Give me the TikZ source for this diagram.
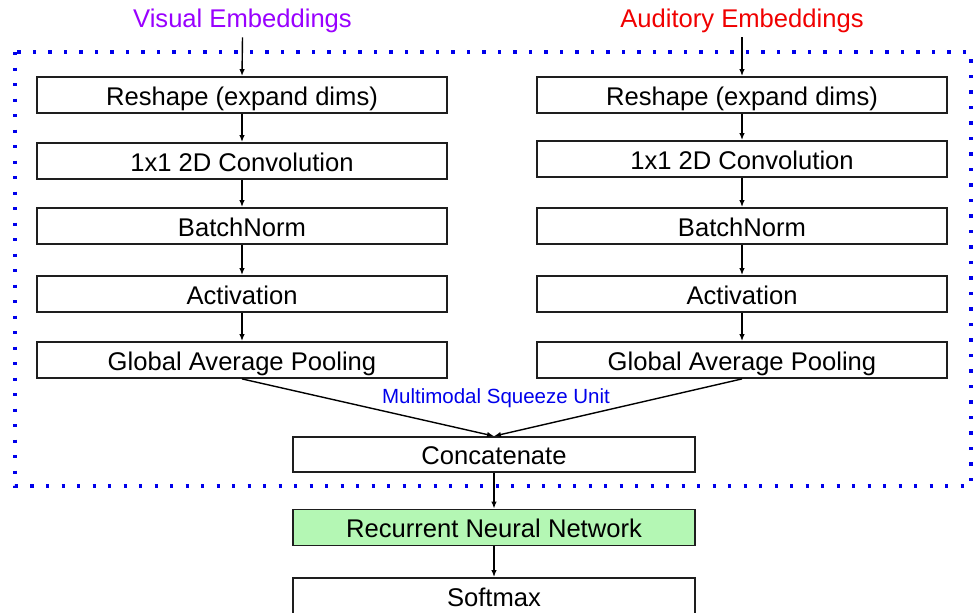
\documentclass[tikz,border=0pt]{standalone}
\usepackage{fontspec}
\setmainfont{Liberation Sans}
\usetikzlibrary{arrows.meta}
\definecolor{visc}{RGB}{153,0,255}
\definecolor{audc}{RGB}{240,0,0}
\definecolor{dotc}{RGB}{0,0,235}
\definecolor{rnnc}{RGB}{180,247,180}
\definecolor{edgec}{RGB}{30,30,30}
\begin{document}
\begin{tikzpicture}[x=1pt,y=-1pt,
  box/.style={draw=edgec,line width=1.8pt,fill=white,minimum height=36pt,inner sep=0pt,
    text height=20pt,text depth=0pt,font=\fontsize{25.6}{30}\selectfont},
  colbox/.style={box,minimum width=410pt},
  midbox/.style={box,minimum width=402pt},
  arr/.style={line width=1.4pt,-{Latex[length=7pt,width=5.5pt]}},
  lbl/.style={inner sep=4.5pt,anchor=base,font=\fontsize{25.6}{30}\selectfont}]
\useasboundingbox (0,0) rectangle (975,613);
% dotted frame
\draw[dotc,line width=3.4pt,dash pattern=on 3.4pt off 12.1pt] (15,52) rectangle (971,486);
% labels
\node[lbl,text=visc] (vis) at (242.5,27.3) {Visual Embeddings};
\node[lbl,text=audc] (aud) at (742,27.3) {Auditory Embeddings};
% left column
\node[colbox] (vr) at (242,95) {Reshape (expand dims)};
\node[colbox] (vc) at (242,161) {1x1 2D Convolution};
\node[colbox] (vb) at (242,226) {BatchNorm};
\node[colbox] (va) at (242,294) {Activation};
\node[colbox] (vg) at (242,360) {Global Average Pooling};
% right column
\node[colbox] (ar) at (742,95) {Reshape (expand dims)};
\node[colbox] (ac) at (742,159) {1x1 2D Convolution};
\node[colbox] (ab) at (742,226) {BatchNorm};
\node[colbox] (aa) at (742,294) {Activation};
\node[colbox] (ag) at (742,360) {Global Average Pooling};
% squeeze label
\node[text=dotc,inner sep=0pt,anchor=base,font=\fontsize{20.5}{24}\selectfont] (msu) at (496,403) {Multimodal Squeeze Unit};
% bottom
\node[midbox,minimum height=35pt] (cat) at (494,454.5) {Concatenate};
\node[midbox,fill=rnnc] (rnn) at (494,527.5) {Recurrent Neural Network};
\node[midbox] (sm) at (494,596) {Softmax};
% connectors
\draw[arr] (vis.south) -- (vr.north);
\draw[arr] (aud.south) -- (ar.north);
\draw[arr] (vr) -- (vc);
\draw[arr] (vc) -- (vb);
\draw[arr] (vb) -- (va);
\draw[arr] (va) -- (vg);
\draw[arr] (ar) -- (ac);
\draw[arr] (ac) -- (ab);
\draw[arr] (ab) -- (aa);
\draw[arr] (aa) -- (ag);
\draw[arr] (vg.south) -- (cat.north);
\draw[arr] (ag.south) -- (cat.north);
\draw[arr] (cat) -- (rnn);
\draw[arr] (rnn) -- (sm);
\end{tikzpicture}
\end{document}
